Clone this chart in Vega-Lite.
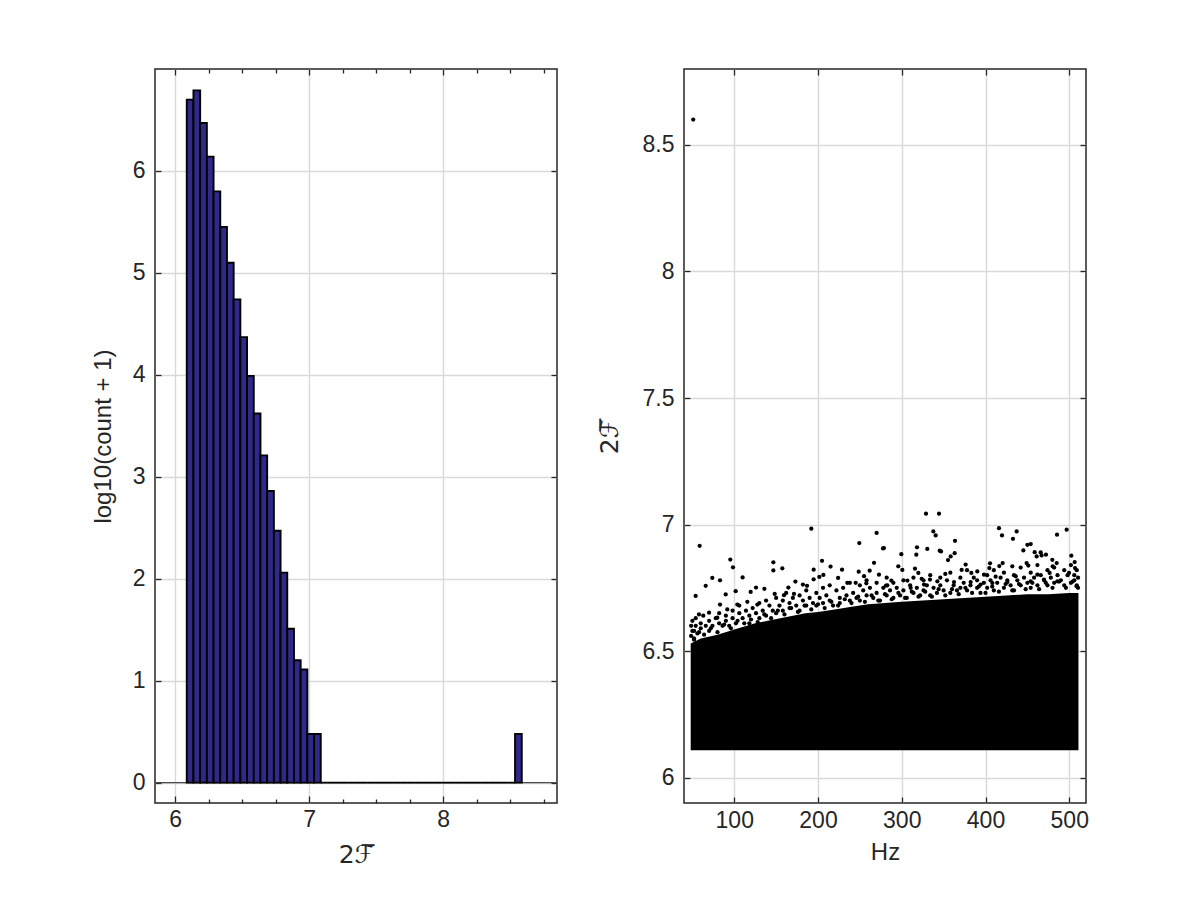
{
  "$schema": "https://vega.github.io/schema/vega-lite/v6.json",
  "background": "white",
  "padding": {"left": 90, "top": 67, "right": 5, "bottom": 5},
  "spacing": 127,
  "bounds": "flush",
  "config": {
    "view": {"stroke": "#262626", "strokeWidth": 1.5},
    "axis": {
      "domain": false,
      "labelFont": "Liberation Sans",
      "labelFontSize": 23,
      "labelColor": "#262626",
      "titleFont": "Liberation Sans",
      "titleFontSize": 24,
      "titleColor": "#262626",
      "titleFontWeight": "normal",
      "tickColor": "#262626",
      "tickWidth": 1.3,
      "tickSize": -6,
      "gridColor": "#d9d9d9",
      "gridWidth": 1.4,
      "labelPadding": 12,
      "labelFlush": false,
      "labelOverlap": false
    },
    "axisY": {"labelPadding": 16}
  },
  "hconcat": [
    {
      "width": 402,
      "height": 734,
      "layer": [
        {
          "data": {"values": [{"y0": 0}]},
          "mark": {"type": "rule", "color": "#4d4d4d", "strokeWidth": 1.2},
          "encoding": {
            "y": {
              "field": "y0", "type": "quantitative",
              "scale": {"domain": [-0.2, 7], "nice": false, "zero": false},
              "axis": {"orient": "right", "values": [0, 1, 2, 3, 4, 5, 6], "labels": false, "grid": false, "title": null}
            }
          }
        },
        {
          "data": {"values": [
            {"bin_start": 6.087, "bin_end": 6.137, "log_count": 6.70},
            {"bin_start": 6.137, "bin_end": 6.187, "log_count": 6.79},
            {"bin_start": 6.187, "bin_end": 6.237, "log_count": 6.47},
            {"bin_start": 6.237, "bin_end": 6.287, "log_count": 6.14},
            {"bin_start": 6.287, "bin_end": 6.337, "log_count": 5.80},
            {"bin_start": 6.337, "bin_end": 6.387, "log_count": 5.45},
            {"bin_start": 6.387, "bin_end": 6.437, "log_count": 5.10},
            {"bin_start": 6.437, "bin_end": 6.487, "log_count": 4.74},
            {"bin_start": 6.487, "bin_end": 6.537, "log_count": 4.37},
            {"bin_start": 6.537, "bin_end": 6.587, "log_count": 3.99},
            {"bin_start": 6.587, "bin_end": 6.637, "log_count": 3.62},
            {"bin_start": 6.637, "bin_end": 6.687, "log_count": 3.21},
            {"bin_start": 6.687, "bin_end": 6.737, "log_count": 2.86},
            {"bin_start": 6.737, "bin_end": 6.787, "log_count": 2.47},
            {"bin_start": 6.787, "bin_end": 6.837, "log_count": 2.06},
            {"bin_start": 6.837, "bin_end": 6.887, "log_count": 1.51},
            {"bin_start": 6.887, "bin_end": 6.937, "log_count": 1.20},
            {"bin_start": 6.937, "bin_end": 6.987, "log_count": 1.11},
            {"bin_start": 6.987, "bin_end": 7.037, "log_count": 0.477},
            {"bin_start": 7.037, "bin_end": 7.087, "log_count": 0.477},
            {"bin_start": 7.087, "bin_end": 7.137, "log_count": 0},
            {"bin_start": 7.137, "bin_end": 7.187, "log_count": 0},
            {"bin_start": 7.187, "bin_end": 7.237, "log_count": 0},
            {"bin_start": 7.237, "bin_end": 7.287, "log_count": 0},
            {"bin_start": 7.287, "bin_end": 7.337, "log_count": 0},
            {"bin_start": 7.337, "bin_end": 7.387, "log_count": 0},
            {"bin_start": 7.387, "bin_end": 7.437, "log_count": 0},
            {"bin_start": 7.437, "bin_end": 7.487, "log_count": 0},
            {"bin_start": 7.487, "bin_end": 7.537, "log_count": 0},
            {"bin_start": 7.537, "bin_end": 7.587, "log_count": 0},
            {"bin_start": 7.587, "bin_end": 7.637, "log_count": 0},
            {"bin_start": 7.637, "bin_end": 7.687, "log_count": 0},
            {"bin_start": 7.687, "bin_end": 7.737, "log_count": 0},
            {"bin_start": 7.737, "bin_end": 7.787, "log_count": 0},
            {"bin_start": 7.787, "bin_end": 7.837, "log_count": 0},
            {"bin_start": 7.837, "bin_end": 7.887, "log_count": 0},
            {"bin_start": 7.887, "bin_end": 7.937, "log_count": 0},
            {"bin_start": 7.937, "bin_end": 7.987, "log_count": 0},
            {"bin_start": 7.987, "bin_end": 8.037, "log_count": 0},
            {"bin_start": 8.037, "bin_end": 8.087, "log_count": 0},
            {"bin_start": 8.087, "bin_end": 8.137, "log_count": 0},
            {"bin_start": 8.137, "bin_end": 8.187, "log_count": 0},
            {"bin_start": 8.187, "bin_end": 8.237, "log_count": 0},
            {"bin_start": 8.237, "bin_end": 8.287, "log_count": 0},
            {"bin_start": 8.287, "bin_end": 8.337, "log_count": 0},
            {"bin_start": 8.337, "bin_end": 8.387, "log_count": 0},
            {"bin_start": 8.387, "bin_end": 8.437, "log_count": 0},
            {"bin_start": 8.437, "bin_end": 8.487, "log_count": 0},
            {"bin_start": 8.487, "bin_end": 8.537, "log_count": 0},
            {"bin_start": 8.537, "bin_end": 8.587, "log_count": 0.477}
          ]},
          "mark": {"type": "bar", "fill": "#30298a", "stroke": "#000000", "strokeWidth": 1.9},
          "encoding": {
            "x": {
              "field": "bin_start", "type": "quantitative",
              "scale": {"domain": [5.85, 8.85], "nice": false, "zero": false},
              "axis": {
                "orient": "bottom",
                "grid": true,
                "values": [6, 6.25, 6.5, 6.75, 7, 7.25, 7.5, 7.75, 8, 8.25, 8.5, 8.75],
                "labelExpr": "datum.value % 1 === 0 ? format(datum.value, 'd') : ''",
                "gridOpacity": {"condition": {"test": "datum.value % 1 === 0", "value": 1}, "value": 0},
                "tickSize": {"condition": {"test": "datum.value % 1 === 0", "value": -7}, "value": -4},
                "title": "2ℱ̅",
                "titleFont": "DejaVu Sans",
                "titleFontSize": 25,
                "titlePadding": 8
              }
            },
            "x2": {"field": "bin_end"},
            "y": {
              "field": "log_count", "type": "quantitative",
              "scale": {"domain": [-0.2, 7], "nice": false, "zero": false},
              "axis": {"orient": "left", "grid": true, "values": [0, 1, 2, 3, 4, 5, 6], "title": "log10(count + 1)", "titlePadding": 17}
            },
            "y2": {"datum": 0}
          }
        },
        {
          "data": {"values": [{"x0": 6}]},
          "mark": {"type": "rule", "opacity": 0},
          "encoding": {
            "x": {
              "field": "x0", "type": "quantitative",
              "scale": {"domain": [5.85, 8.85], "nice": false, "zero": false},
              "axis": {
                "orient": "top",
                "values": [6, 6.25, 6.5, 6.75, 7, 7.25, 7.5, 7.75, 8, 8.25, 8.5, 8.75],
                "labels": false, "grid": false, "title": null,
                "tickSize": {"condition": {"test": "datum.value % 1 === 0", "value": -6}, "value": -4}
              }
            }
          }
        }
      ],
      "resolve": {"axis": {"x": "independent", "y": "independent"}}
    },
    {
      "width": 402,
      "height": 734,
      "layer": [
        {
          "data": {"values": [
            {"hz": 48, "top": 6.53}, {"hz": 60, "top": 6.55}, {"hz": 80, "top": 6.565}, {"hz": 100, "top": 6.585},
            {"hz": 115, "top": 6.60}, {"hz": 125, "top": 6.61}, {"hz": 140, "top": 6.62}, {"hz": 155, "top": 6.63},
            {"hz": 170, "top": 6.64}, {"hz": 185, "top": 6.65}, {"hz": 200, "top": 6.655}, {"hz": 220, "top": 6.665},
            {"hz": 240, "top": 6.675}, {"hz": 260, "top": 6.685}, {"hz": 280, "top": 6.69}, {"hz": 300, "top": 6.695},
            {"hz": 325, "top": 6.70}, {"hz": 350, "top": 6.705}, {"hz": 375, "top": 6.71}, {"hz": 400, "top": 6.715},
            {"hz": 425, "top": 6.72}, {"hz": 450, "top": 6.725}, {"hz": 475, "top": 6.725}, {"hz": 500, "top": 6.73},
            {"hz": 511, "top": 6.73}
          ]},
          "mark": {"type": "area", "color": "#000000", "interpolate": "linear", "opacity": 1},
          "encoding": {
            "x": {
              "field": "hz", "type": "quantitative",
              "scale": {"domain": [40, 520], "nice": false, "zero": false},
              "axis": {"orient": "bottom", "grid": true, "values": [100, 200, 300, 400, 500], "title": "Hz", "titlePadding": 8}
            },
            "y": {
              "field": "top", "type": "quantitative",
              "scale": {"domain": [5.9, 8.8], "nice": false, "zero": false},
              "axis": {
                "orient": "left", "grid": true, "values": [6, 6.5, 7, 7.5, 8, 8.5],
                "labelExpr": "'' + datum.value",
                "title": "2ℱ̅", "titleFont": "DejaVu Sans", "titleFontSize": 25, "titlePadding": 20
              }
            },
            "y2": {"datum": 6.108}
          }
        },
        {
          "data": {"values": [
            {"hz": 51, "v": 8.60},
            {"hz": 58.7, "v": 6.916}, {"hz": 53.9, "v": 6.718}, {"hz": 65.9, "v": 6.758}, {"hz": 73.8, "v": 6.789},
            {"hz": 83.0, "v": 6.780}, {"hz": 95.3, "v": 6.862}, {"hz": 98.5, "v": 6.831}, {"hz": 89.8, "v": 6.724},
            {"hz": 83.0, "v": 6.684}, {"hz": 110, "v": 6.791}, {"hz": 101.7, "v": 6.737}, {"hz": 119.6, "v": 6.734},
            {"hz": 126, "v": 6.751}, {"hz": 136, "v": 6.746}, {"hz": 146.7, "v": 6.851}, {"hz": 146.7, "v": 6.819},
            {"hz": 157.4, "v": 6.827}, {"hz": 192, "v": 6.984}, {"hz": 204.8, "v": 6.857}, {"hz": 194.8, "v": 6.822},
            {"hz": 215, "v": 6.834}, {"hz": 228.7, "v": 6.822}, {"hz": 173, "v": 6.775}, {"hz": 164.6, "v": 6.751},
            {"hz": 182, "v": 6.763}, {"hz": 186.9, "v": 6.758}, {"hz": 201.6, "v": 6.793}, {"hz": 206.4, "v": 6.801},
            {"hz": 194.8, "v": 6.784}, {"hz": 224, "v": 6.789}, {"hz": 249.3, "v": 6.927}, {"hz": 270, "v": 6.967},
            {"hz": 277.6, "v": 6.906}, {"hz": 248.6, "v": 6.814}, {"hz": 255, "v": 6.796}, {"hz": 266.9, "v": 6.849},
            {"hz": 261.7, "v": 6.818}, {"hz": 272.8, "v": 6.802}, {"hz": 281.2, "v": 6.759}, {"hz": 257.7, "v": 6.768},
            {"hz": 235, "v": 6.770}, {"hz": 245, "v": 6.770}, {"hz": 159.4, "v": 6.721}, {"hz": 171.3, "v": 6.726},
            {"hz": 148.3, "v": 6.726}, {"hz": 127.6, "v": 6.684}, {"hz": 115.6, "v": 6.695}, {"hz": 103.7, "v": 6.684},
            {"hz": 91.7, "v": 6.665}, {"hz": 79.8, "v": 6.632}, {"hz": 57.9, "v": 6.645}, {"hz": 69.9, "v": 6.652},
            {"hz": 52, "v": 6.580},
            {"hz": 329, "v": 7.043}, {"hz": 344.5, "v": 7.043}, {"hz": 337.7, "v": 6.973}, {"hz": 340.5, "v": 6.957},
            {"hz": 363.6, "v": 6.936}, {"hz": 330.5, "v": 6.904}, {"hz": 318.2, "v": 6.910}, {"hz": 317.4, "v": 6.881},
            {"hz": 299.5, "v": 6.883}, {"hz": 278.8, "v": 6.907}, {"hz": 345.3, "v": 6.897}, {"hz": 346.9, "v": 6.894},
            {"hz": 363.2, "v": 6.887}, {"hz": 358.4, "v": 6.874}, {"hz": 355.2, "v": 6.860}, {"hz": 416.1, "v": 6.986},
            {"hz": 419.7, "v": 6.957}, {"hz": 437.2, "v": 6.973}, {"hz": 432.8, "v": 6.944}, {"hz": 496.9, "v": 6.980},
            {"hz": 485.4, "v": 6.960}, {"hz": 450, "v": 6.920}, {"hz": 454, "v": 6.923}, {"hz": 445.2, "v": 6.898},
            {"hz": 458.7, "v": 6.891}, {"hz": 465.9, "v": 6.890}, {"hz": 461.1, "v": 6.874}, {"hz": 472.2, "v": 6.881},
            {"hz": 467, "v": 6.878}, {"hz": 479.8, "v": 6.861}, {"hz": 485, "v": 6.848}, {"hz": 480.2, "v": 6.835},
            {"hz": 502.5, "v": 6.877}, {"hz": 506.5, "v": 6.852}, {"hz": 506.9, "v": 6.828}, {"hz": 405.4, "v": 6.847},
            {"hz": 416.5, "v": 6.836}, {"hz": 420.5, "v": 6.848}, {"hz": 404.6, "v": 6.828}, {"hz": 432, "v": 6.835},
            {"hz": 376.3, "v": 6.842}, {"hz": 371.5, "v": 6.821}, {"hz": 383.1, "v": 6.809}, {"hz": 390.2, "v": 6.815},
            {"hz": 449.1, "v": 6.848}, {"hz": 451.1, "v": 6.838}, {"hz": 295.9, "v": 6.835}, {"hz": 300.7, "v": 6.821},
            {"hz": 315.8, "v": 6.826}, {"hz": 319.8, "v": 6.809}, {"hz": 352, "v": 6.805}, {"hz": 333.7, "v": 6.783},
            {"hz": 287.6, "v": 6.779}, {"hz": 282.8, "v": 6.760}, {"hz": 306.7, "v": 6.779}, {"hz": 323.8, "v": 6.786},
            {"hz": 342.5, "v": 6.776}, {"hz": 362.4, "v": 6.773}, {"hz": 398.2, "v": 6.802}, {"hz": 412.1, "v": 6.794},
            {"hz": 436, "v": 6.796}, {"hz": 461.9, "v": 6.802}, {"hz": 476.6, "v": 6.809}, {"hz": 499.7, "v": 6.809},
            {"hz": 508.8, "v": 6.756}, {"hz": 485.8, "v": 6.776}, {"hz": 469.8, "v": 6.783}, {"hz": 453.9, "v": 6.776},
            {"hz": 426.1, "v": 6.773}, {"hz": 408.2, "v": 6.769}, {"hz": 382.3, "v": 6.773}, {"hz": 394.2, "v": 6.763},
            {"hz": 326.6, "v": 6.763}, {"hz": 310.6, "v": 6.750},
            {"hz": 48.5, "v": 6.56}, {"hz": 48.5, "v": 6.60}, {"hz": 50, "v": 6.62}, {"hz": 50, "v": 6.58},
            {"hz": 52, "v": 6.55}, {"hz": 54, "v": 6.60}, {"hz": 54, "v": 6.63}, {"hz": 56, "v": 6.57},
            {"hz": 60, "v": 6.61}, {"hz": 60, "v": 6.59}, {"hz": 63, "v": 6.64}, {"hz": 66, "v": 6.60},
            {"hz": 70, "v": 6.62}, {"hz": 70, "v": 6.58}, {"hz": 74, "v": 6.60}, {"hz": 78, "v": 6.63},
            {"hz": 82, "v": 6.61}, {"hz": 82, "v": 6.65}, {"hz": 86, "v": 6.60}, {"hz": 90, "v": 6.64},
            {"hz": 90, "v": 6.62}, {"hz": 94, "v": 6.60}, {"hz": 98, "v": 6.66}, {"hz": 98, "v": 6.63},
            {"hz": 102, "v": 6.61}, {"hz": 106, "v": 6.65}, {"hz": 106, "v": 6.68}, {"hz": 110, "v": 6.63},
            {"hz": 114, "v": 6.66}, {"hz": 118, "v": 6.64}, {"hz": 118, "v": 6.61}, {"hz": 122, "v": 6.67},
            {"hz": 126, "v": 6.65}, {"hz": 130, "v": 6.63}, {"hz": 130, "v": 6.69}, {"hz": 134, "v": 6.66},
            {"hz": 138, "v": 6.70}, {"hz": 138, "v": 6.64}, {"hz": 142, "v": 6.68}, {"hz": 146, "v": 6.66},
            {"hz": 150, "v": 6.71}, {"hz": 150, "v": 6.65}, {"hz": 154, "v": 6.68}, {"hz": 158, "v": 6.66},
            {"hz": 158, "v": 6.70}, {"hz": 162, "v": 6.73}, {"hz": 166, "v": 6.69}, {"hz": 166, "v": 6.67},
            {"hz": 170, "v": 6.71}, {"hz": 174, "v": 6.68}, {"hz": 178, "v": 6.72}, {"hz": 178, "v": 6.66},
            {"hz": 182, "v": 6.70}, {"hz": 186, "v": 6.68}, {"hz": 186, "v": 6.74}, {"hz": 190, "v": 6.71},
            {"hz": 194, "v": 6.69}, {"hz": 198, "v": 6.73}, {"hz": 198, "v": 6.68}, {"hz": 202, "v": 6.71},
            {"hz": 206, "v": 6.75}, {"hz": 206, "v": 6.69}, {"hz": 210, "v": 6.72}, {"hz": 214, "v": 6.70},
            {"hz": 214, "v": 6.76}, {"hz": 218, "v": 6.68}, {"hz": 222, "v": 6.74}, {"hz": 226, "v": 6.71},
            {"hz": 226, "v": 6.69}, {"hz": 230, "v": 6.75}, {"hz": 234, "v": 6.72}, {"hz": 238, "v": 6.70},
            {"hz": 238, "v": 6.77}, {"hz": 242, "v": 6.73}, {"hz": 246, "v": 6.71}, {"hz": 250, "v": 6.76},
            {"hz": 250, "v": 6.70}, {"hz": 254, "v": 6.74}, {"hz": 258, "v": 6.72}, {"hz": 258, "v": 6.78},
            {"hz": 262, "v": 6.75}, {"hz": 266, "v": 6.71}, {"hz": 270, "v": 6.77}, {"hz": 270, "v": 6.73},
            {"hz": 274, "v": 6.70}, {"hz": 278, "v": 6.75}, {"hz": 282, "v": 6.72}, {"hz": 282, "v": 6.79},
            {"hz": 286, "v": 6.74}, {"hz": 290, "v": 6.71}, {"hz": 290, "v": 6.77}, {"hz": 294, "v": 6.75},
            {"hz": 298, "v": 6.72}, {"hz": 302, "v": 6.78}, {"hz": 302, "v": 6.74}, {"hz": 306, "v": 6.71},
            {"hz": 310, "v": 6.76}, {"hz": 314, "v": 6.73}, {"hz": 314, "v": 6.79}, {"hz": 318, "v": 6.75},
            {"hz": 322, "v": 6.72}, {"hz": 326, "v": 6.78}, {"hz": 326, "v": 6.74}, {"hz": 330, "v": 6.76},
            {"hz": 334, "v": 6.72}, {"hz": 334, "v": 6.80}, {"hz": 338, "v": 6.75}, {"hz": 342, "v": 6.73},
            {"hz": 346, "v": 6.79}, {"hz": 346, "v": 6.76}, {"hz": 350, "v": 6.74}, {"hz": 354, "v": 6.78},
            {"hz": 358, "v": 6.73}, {"hz": 358, "v": 6.81}, {"hz": 362, "v": 6.76}, {"hz": 366, "v": 6.74},
            {"hz": 370, "v": 6.79}, {"hz": 370, "v": 6.75}, {"hz": 374, "v": 6.77}, {"hz": 378, "v": 6.74},
            {"hz": 378, "v": 6.82}, {"hz": 382, "v": 6.76}, {"hz": 386, "v": 6.79}, {"hz": 390, "v": 6.75},
            {"hz": 390, "v": 6.78}, {"hz": 394, "v": 6.73}, {"hz": 398, "v": 6.77}, {"hz": 402, "v": 6.80},
            {"hz": 402, "v": 6.75}, {"hz": 406, "v": 6.78}, {"hz": 410, "v": 6.74}, {"hz": 410, "v": 6.82},
            {"hz": 414, "v": 6.77}, {"hz": 418, "v": 6.79}, {"hz": 422, "v": 6.75}, {"hz": 422, "v": 6.81},
            {"hz": 426, "v": 6.78}, {"hz": 430, "v": 6.76}, {"hz": 434, "v": 6.80}, {"hz": 434, "v": 6.74},
            {"hz": 438, "v": 6.78}, {"hz": 442, "v": 6.76}, {"hz": 442, "v": 6.83}, {"hz": 446, "v": 6.79},
            {"hz": 450, "v": 6.77}, {"hz": 454, "v": 6.81}, {"hz": 454, "v": 6.75}, {"hz": 458, "v": 6.79},
            {"hz": 462, "v": 6.76}, {"hz": 462, "v": 6.84}, {"hz": 466, "v": 6.80}, {"hz": 470, "v": 6.78},
            {"hz": 474, "v": 6.82}, {"hz": 474, "v": 6.76}, {"hz": 478, "v": 6.79}, {"hz": 482, "v": 6.77},
            {"hz": 482, "v": 6.83}, {"hz": 486, "v": 6.80}, {"hz": 490, "v": 6.78}, {"hz": 494, "v": 6.82},
            {"hz": 494, "v": 6.76}, {"hz": 498, "v": 6.80}, {"hz": 502, "v": 6.77}, {"hz": 502, "v": 6.84},
            {"hz": 506, "v": 6.80}, {"hz": 506, "v": 6.78}, {"hz": 509, "v": 6.82}, {"hz": 509, "v": 6.76},
            {"hz": 510.5, "v": 6.79}, {"hz": 510.5, "v": 6.75},
            {"hz": 52, "v": 6.545}, {"hz": 58, "v": 6.575}, {"hz": 64, "v": 6.565}, {"hz": 72, "v": 6.59},
            {"hz": 80, "v": 6.575}, {"hz": 88, "v": 6.605}, {"hz": 96, "v": 6.59}, {"hz": 104, "v": 6.62},
            {"hz": 112, "v": 6.61}, {"hz": 120, "v": 6.625}, {"hz": 128, "v": 6.615}, {"hz": 136, "v": 6.645},
            {"hz": 144, "v": 6.63}, {"hz": 152, "v": 6.66}, {"hz": 160, "v": 6.645}, {"hz": 168, "v": 6.67},
            {"hz": 176, "v": 6.655}, {"hz": 184, "v": 6.68}, {"hz": 192, "v": 6.665}, {"hz": 200, "v": 6.685},
            {"hz": 208, "v": 6.67}, {"hz": 216, "v": 6.695}, {"hz": 224, "v": 6.68}, {"hz": 232, "v": 6.705},
            {"hz": 240, "v": 6.69}, {"hz": 248, "v": 6.715}, {"hz": 256, "v": 6.695}, {"hz": 264, "v": 6.72},
            {"hz": 272, "v": 6.70}, {"hz": 280, "v": 6.725}, {"hz": 288, "v": 6.705}, {"hz": 296, "v": 6.73},
            {"hz": 304, "v": 6.71}, {"hz": 312, "v": 6.735}, {"hz": 320, "v": 6.715}, {"hz": 328, "v": 6.735},
            {"hz": 336, "v": 6.715}, {"hz": 344, "v": 6.745}, {"hz": 352, "v": 6.72}, {"hz": 360, "v": 6.745},
            {"hz": 368, "v": 6.725}, {"hz": 376, "v": 6.75}, {"hz": 384, "v": 6.73}, {"hz": 392, "v": 6.755},
            {"hz": 400, "v": 6.73}, {"hz": 408, "v": 6.755}, {"hz": 416, "v": 6.735}, {"hz": 424, "v": 6.765},
            {"hz": 432, "v": 6.74}, {"hz": 440, "v": 6.765}, {"hz": 448, "v": 6.745}, {"hz": 456, "v": 6.77},
            {"hz": 464, "v": 6.745}, {"hz": 472, "v": 6.77}, {"hz": 480, "v": 6.75}, {"hz": 488, "v": 6.775},
            {"hz": 496, "v": 6.75}, {"hz": 504, "v": 6.775}
          ]},
          "mark": {"type": "circle", "color": "#000000", "size": 18, "opacity": 1},
          "encoding": {
            "x": {"field": "hz", "type": "quantitative", "scale": {"domain": [40, 520], "nice": false, "zero": false}, "axis": null},
            "y": {"field": "v", "type": "quantitative", "scale": {"domain": [5.9, 8.8], "nice": false, "zero": false}, "axis": null}
          }
        },
        {
          "data": {"values": [{"hz": 100, "v": 6}]},
          "mark": {"type": "point", "opacity": 0},
          "encoding": {
            "x": {
              "field": "hz", "type": "quantitative",
              "scale": {"domain": [40, 520], "nice": false, "zero": false},
              "axis": {"orient": "top", "values": [100, 200, 300, 400, 500], "labels": false, "grid": false, "title": null}
            },
            "y": {
              "field": "v", "type": "quantitative",
              "scale": {"domain": [5.9, 8.8], "nice": false, "zero": false},
              "axis": {"orient": "right", "values": [6, 6.5, 7, 7.5, 8, 8.5], "labels": false, "grid": false, "title": null}
            }
          }
        }
      ],
      "resolve": {"axis": {"x": "independent", "y": "independent"}}
    }
  ]
}
